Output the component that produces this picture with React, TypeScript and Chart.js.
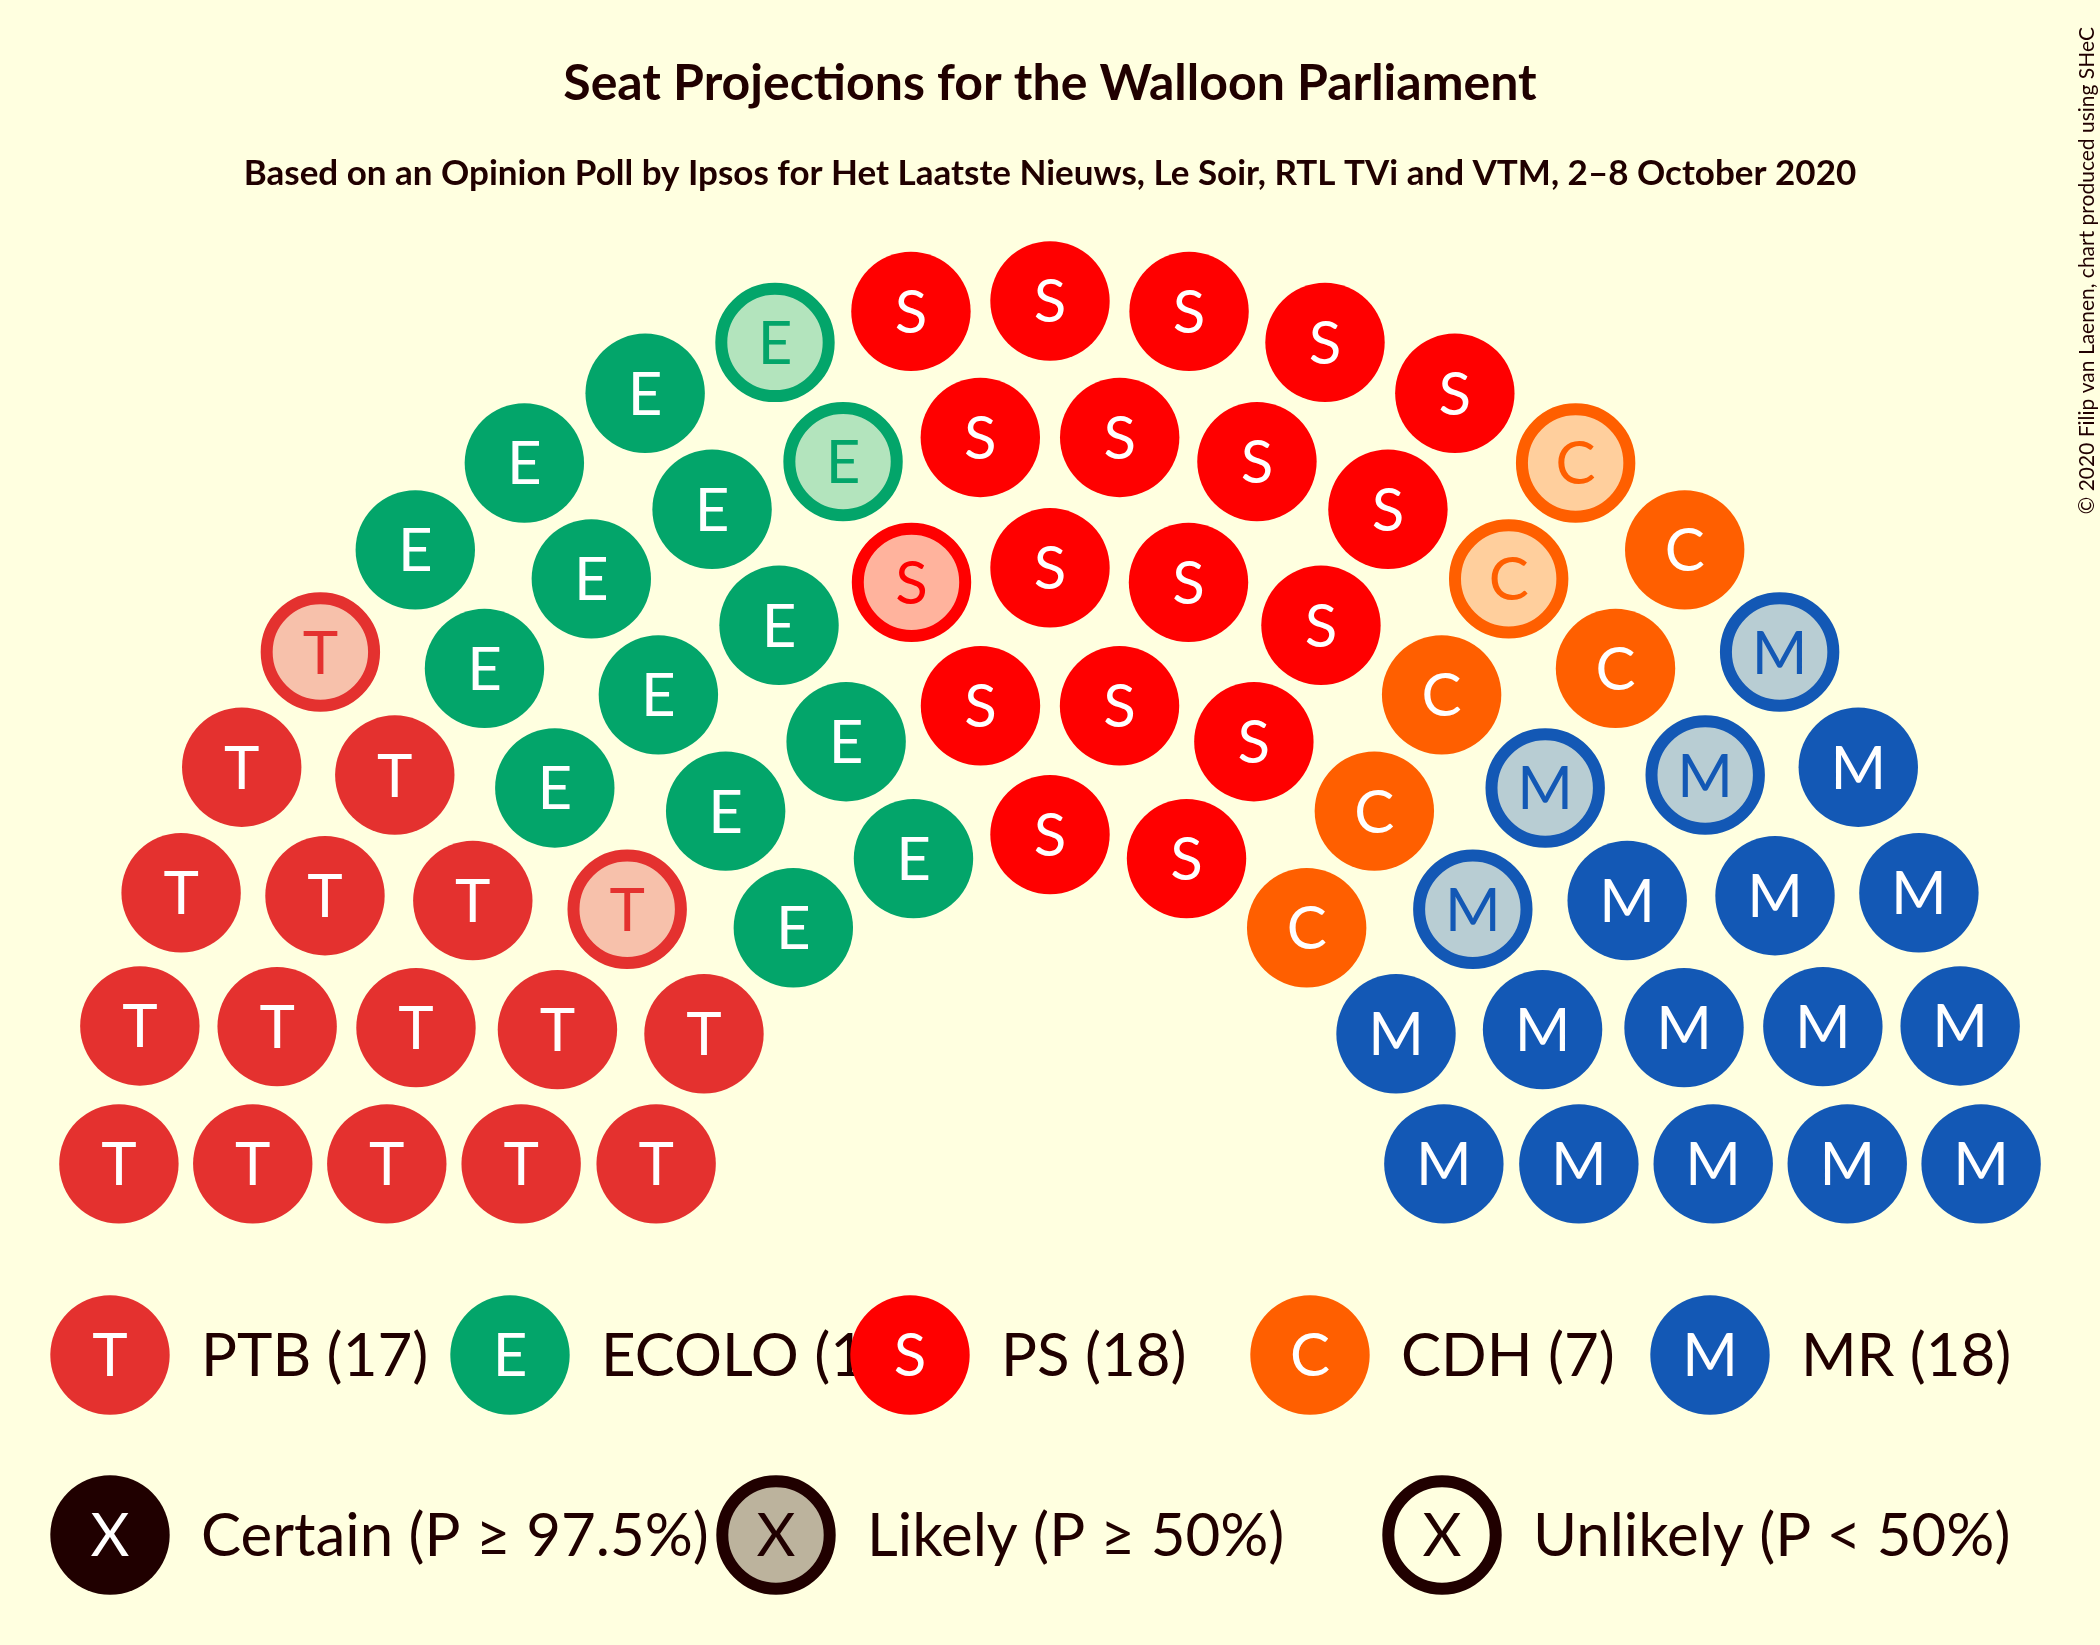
import { useEffect, useRef } from "react";
import { Chart, registerables } from "chart.js";

Chart.register(...registerables);

// parties, left to right in the hemicycle
const partyNames = ["PTB", "ECOLO", "PS", "CDH", "MR"];
const partyLetters = ["T", "E", "S", "C", "M"];
const partySeats = [17, 15, 18, 7, 18];
// how many of each party's seats are only "likely", at the start / end of its block
const likelyAtStart = [0, 0, 1, 2, 4];
const likelyAtEnd = [2, 2, 0, 0, 0];
const partyColors = ["#E4312F", "#03A56A", "#FF0000", "#FF5F00", "#1358B5"];

// rings of the hemicycle (radius in seat units) and seats per ring
const ringRadii = [3, 4, 5, 6, 7];
const ringSeats = [9, 12, 15, 18, 21];

const statusLabels = ["Certain (P ≥ 97.5%)", "Likely (P ≥ 50%)", "Unlikely (P < 50%)"];

const TITLE = "Seat Projections for the Walloon Parliament";
const SUBTITLE =
  "Based on an Opinion Poll by Ipsos for Het Laatste Nieuws, Le Soir, RTL TVi and VTM, 2–8 October 2020";
const COPYRIGHT = "© 2020 Filip van Laenen, chart produced using SHeC";

const W = 2100;
const H = 1645;
const UNIT = 133.4; // px per seat unit
const CX = 1050;
const CY = 1234.8;
const BASE = 0.532; // bottom row sits this far above the centre
const SEAT_R = 59.7;
const RING_W = 12;
const BG = "#FFFFE0";
const INK = "#200000";
const FONT = "Lato, 'Open Sans', sans-serif";

const hexToRgb = (hex: string) => {
  const n = parseInt(hex.slice(1), 16);
  return [(n >> 16) & 255, (n >> 8) & 255, n & 255];
};

const tint = (hex: string) => {
  const c = hexToRgb(hex);
  const b = hexToRgb(BG);
  const m = c.map((v, i) => Math.round(v * 0.3 + b[i] * 0.7));
  return `rgb(${m[0]}, ${m[1]}, ${m[2]})`;
};

interface Seat {
  phi: number;
  x: number;
  y: number;
  party: number;
  likely: boolean;
}

const buildSeats = (): Seat[] => {
  const list: Seat[] = [];
  ringRadii.forEach((r, k) => {
    const n = ringSeats[k];
    const a = Math.asin(BASE / r);
    for (let i = 0; i < n; i++) {
      const phi = a + ((Math.PI - 2 * a) * i) / (n - 1);
      list.push({ phi, x: -r * Math.cos(phi), y: r * Math.sin(phi), party: 0, likely: false });
    }
  });
  list.sort((p, q) => p.phi - q.phi);
  let idx = 0;
  partySeats.forEach((count, p) => {
    for (let j = 0; j < count; j++) {
      const s = list[idx++];
      s.party = p;
      s.likely = j < likelyAtStart[p] || j >= count - likelyAtEnd[p];
    }
  });
  return list;
};

const drawBadge = (
  ctx: CanvasRenderingContext2D,
  x: number,
  y: number,
  color: string,
  letter: string,
  mode: "certain" | "likely" | "unlikely"
) => {
  ctx.beginPath();
  if (mode === "certain") {
    ctx.arc(x, y, SEAT_R, 0, Math.PI * 2);
    ctx.fillStyle = color;
    ctx.fill();
  } else {
    ctx.arc(x, y, SEAT_R - RING_W / 2, 0, Math.PI * 2);
    ctx.fillStyle = mode === "likely" ? tint(color) : BG;
    ctx.fill();
    ctx.lineWidth = RING_W;
    ctx.strokeStyle = color;
    ctx.stroke();
  }
  ctx.font = `60px ${FONT}`;
  ctx.textAlign = "center";
  ctx.textBaseline = "alphabetic";
  ctx.fillStyle = mode === "certain" ? "#FFFFFF" : color;
  ctx.fillText(letter, x, y + 60 * 0.358);
};

export default function App() {
  const chartRef = useRef<HTMLCanvasElement>(null);
  const chartInstance = useRef<Chart | null>(null);

  useEffect(() => {
    if (!chartRef.current) return;
    const seats = buildSeats();

    const backgroundPlugin = {
      id: "paper",
      beforeDraw(chart: any) {
        const ctx = chart.ctx;
        ctx.save();
        ctx.fillStyle = BG;
        ctx.fillRect(0, 0, chart.width, chart.height);
        ctx.restore();
      },
    };

    const lettersPlugin = {
      id: "seatLetters",
      afterDatasetsDraw(chart: any) {
        const ctx = chart.ctx;
        const meta = chart.getDatasetMeta(0);
        ctx.save();
        ctx.font = `60px ${FONT}`;
        ctx.textAlign = "center";
        ctx.textBaseline = "alphabetic";
        meta.data.forEach((el: any, i: number) => {
          const s = seats[i];
          ctx.fillStyle = s.likely ? partyColors[s.party] : "#FFFFFF";
          ctx.fillText(partyLetters[s.party], el.x, el.y + 60 * 0.358);
        });
        ctx.restore();
      },
    };

    const decorPlugin = {
      id: "decor",
      afterDraw(chart: any) {
        const ctx = chart.ctx as CanvasRenderingContext2D;
        ctx.save();
        ctx.fillStyle = INK;
        ctx.textAlign = "center";
        ctx.textBaseline = "alphabetic";
        ctx.font = `bold 50px ${FONT}`;
        ctx.fillText(TITLE, W / 2, 100);
        ctx.font = `bold 35px ${FONT}`;
        ctx.fillText(SUBTITLE, W / 2, 185);

        // party legend
        partyNames.forEach((name, i) => {
          const x = 110 + 400 * i;
          const y = 1355;
          drawBadge(ctx, x, y, partyColors[i], partyLetters[i], "certain");
          ctx.font = `60px ${FONT}`;
          ctx.textAlign = "left";
          ctx.fillStyle = INK;
          ctx.fillText(`${name} (${partySeats[i]})`, x + 91, y + 60 * 0.358);
        });

        // status legend
        const modes: ("certain" | "likely" | "unlikely")[] = ["certain", "likely", "unlikely"];
        statusLabels.forEach((label, j) => {
          const x = 110 + 666 * j;
          const y = 1535;
          drawBadge(ctx, x, y, INK, "X", modes[j]);
          ctx.font = `60px ${FONT}`;
          ctx.textAlign = "left";
          ctx.fillStyle = INK;
          ctx.fillText(label, x + 91, y + 60 * 0.358);
        });

        // copyright, vertical
        ctx.translate(2087, 27);
        ctx.rotate(-Math.PI / 2);
        ctx.font = `21px ${FONT}`;
        ctx.textAlign = "right";
        ctx.textBaseline = "middle";
        ctx.fillStyle = INK;
        ctx.fillText(COPYRIGHT, 0, 0);
        ctx.restore();
      },
    };

    const config: any = {
      type: "scatter",
      data: {
        datasets: [
          {
            data: seats.map((s) => ({ x: s.x, y: s.y })),
            pointStyle: "circle",
            pointRadius: seats.map((s) => (s.likely ? SEAT_R - RING_W / 2 : SEAT_R)),
            pointHoverRadius: seats.map((s) => (s.likely ? SEAT_R - RING_W / 2 : SEAT_R)),
            pointBackgroundColor: seats.map((s) =>
              s.likely ? tint(partyColors[s.party]) : partyColors[s.party]
            ),
            pointBorderColor: seats.map((s) => partyColors[s.party]),
            pointBorderWidth: seats.map((s) => (s.likely ? RING_W : 0)),
            showLine: false,
          },
        ],
      },
      options: {
        animation: false,
        responsive: false,
        devicePixelRatio: 1,
        events: [],
        layout: { padding: 0, autoPadding: false },
        plugins: {
          legend: { display: false },
          tooltip: { enabled: false },
          title: { display: false },
        },
        scales: {
          x: { type: "linear", display: false, min: -CX / UNIT, max: (W - CX) / UNIT },
          y: { type: "linear", display: false, min: -(H - CY) / UNIT, max: CY / UNIT },
        },
      },
      plugins: [backgroundPlugin, lettersPlugin, decorPlugin],
    };

    if (chartInstance.current) {
      chartInstance.current.destroy();
    }
    chartInstance.current = new Chart(chartRef.current, config);

    return () => {
      if (chartInstance.current) {
        chartInstance.current.destroy();
        chartInstance.current = null;
      }
    };
  }, []);

  return (
    <div style={{ position: "absolute", left: 0, top: 0, width: W, height: H, background: BG }}>
      <canvas ref={chartRef} width={W} height={H} style={{ display: "block" }} />
    </div>
  );
}
